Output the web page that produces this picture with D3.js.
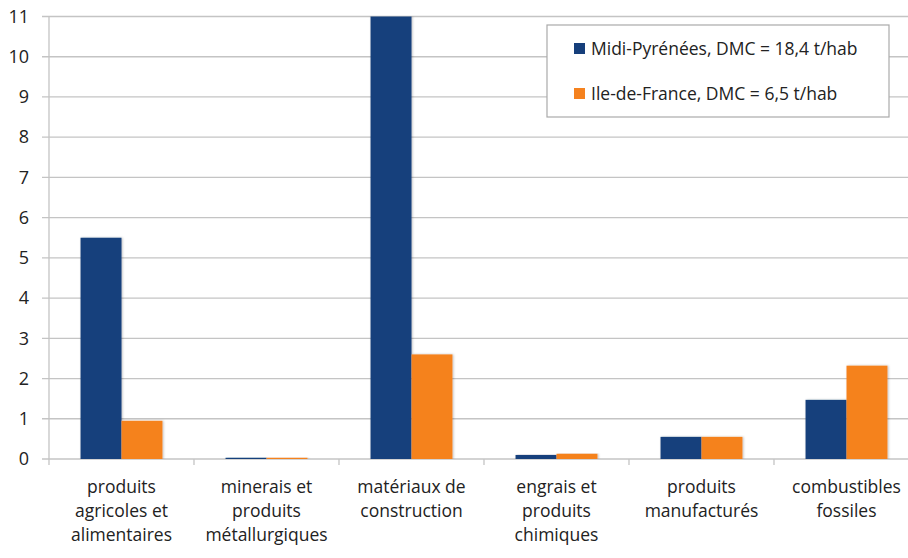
<!DOCTYPE html>
<html>
<head>
<meta charset="utf-8">
<script src="https://cdn.jsdelivr.net/npm/d3@7"></script>
<style>
  body { margin: 0; background: #fff; }
  svg { display: block; font-family: "Open Sans", sans-serif; }
</style>
</head>
<body>
<div id="chart"></div>
<script>
// chart data
const categories = [
    ["produits", "agricoles et", "alimentaires"],
    ["minerais et", "produits", "métallurgiques"],
    ["matériaux de", "construction"],
    ["engrais et", "produits", "chimiques"],
    ["produits", "manufacturés"],
    ["combustibles", "fossiles"]
];
const seriesNames = ["Midi-Pyrénées, DMC = 18,4 t/hab", "Ile-de-France, DMC = 6,5 t/hab"];
const midiPyrenees = [5.5, 0.03, 11.4, 0.1, 0.55, 1.47];
const ileDeFrance = [0.95, 0.03, 2.6, 0.13, 0.55, 2.32];
const yTicks = [0, 1, 2, 3, 4, 5, 6, 7, 8, 9, 10, 11];
const colors = ["#163f7b", "#f5821f"];

const width = 908, height = 558;
const margin = { top: 16.5, left: 49, bottom: 99 };
const plotRight = 919; // plot runs past the picture edge

const svg = d3.select("#chart")
    .append("svg")
    .attr("width", width)
    .attr("height", height);

const keys = categories.map((c, i) => i);

const x0 = d3.scaleBand()
    .domain(keys)
    .range([margin.left, plotRight])
    .padding(0);

const x1 = d3.scaleBand()
    .domain([0, 1])
    .range([0, x0.bandwidth()])
    .paddingInner(0)
    .paddingOuter(0.77);

const y = d3.scaleLinear()
    .domain([0, 11])
    .range([height - margin.bottom, margin.top]);

// gridlines
svg.append("g")
    .selectAll("line")
    .data(yTicks)
    .enter().append("line")
    .attr("x1", margin.left - 7)
    .attr("x2", width)
    .attr("y1", d => y(d))
    .attr("y2", d => y(d))
    .style("stroke", "#c4c4c4")
    .style("stroke-width", 1.3);

// y tick labels
svg.append("g")
    .selectAll("text")
    .data(yTicks)
    .enter().append("text")
    .attr("x", 29)
    .attr("y", d => y(d))
    .attr("dy", "0.35em")
    .attr("text-anchor", "end")
    .style("font-size", "18px")
    .style("fill", "#222")
    .text(d => d);

// clip so the tall bar stops at the top of the axis
svg.append("clipPath")
    .attr("id", "plot-clip")
    .append("rect")
    .attr("x", margin.left)
    .attr("y", margin.top)
    .attr("width", plotRight - margin.left)
    .attr("height", y(0) - margin.top);

const defs = svg.append("defs");
const shadow = defs.append("filter").attr("id", "shadow")
    .attr("x", "-20%").attr("y", "-5%").attr("width", "140%").attr("height", "110%");
shadow.append("feDropShadow")
    .attr("dx", 1).attr("dy", 0).attr("stdDeviation", 1)
    .attr("flood-color", "#000").attr("flood-opacity", 0.25);

const rows = keys.map(i => [midiPyrenees[i], ileDeFrance[i]]);

const groups = svg.append("g")
    .attr("clip-path", "url(#plot-clip)")
    .selectAll("g")
    .data(rows)
    .enter().append("g")
    .attr("transform", (d, i) => `translate(${x0(i)},0)`);

groups.selectAll("rect")
    .data(d => d)
    .enter().append("rect")
    .attr("x", (d, j) => x1(j))
    .attr("width", x1.bandwidth())
    .attr("y", d => y(d))
    .attr("height", d => y(0) - y(d))
    .style("fill", (d, j) => colors[j])
    .attr("filter", "url(#shadow)");

// y axis line
svg.append("line")
    .attr("x1", margin.left).attr("x2", margin.left)
    .attr("y1", margin.top).attr("y2", y(0))
    .style("stroke", "#c4c4c4")
    .style("stroke-width", 1.3);

// x axis category ticks
const boundaries = keys.map(i => x0(i)).concat([plotRight]);
svg.append("g")
    .selectAll("line")
    .data(boundaries)
    .enter().append("line")
    .attr("x1", d => d).attr("x2", d => d)
    .attr("y1", y(0)).attr("y2", y(0) + 6)
    .style("stroke", "#c4c4c4")
    .style("stroke-width", 1.3);

// category labels
const labels = svg.append("g")
    .selectAll("text")
    .data(categories)
    .enter().append("text")
    .attr("x", (d, i) => x0(i) + x0.bandwidth() / 2)
    .attr("y", y(0) + 34)
    .attr("text-anchor", "middle")
    .style("font-size", "17.5px")
    .style("fill", "#222");

labels.selectAll("tspan")
    .data(d => d)
    .enter().append("tspan")
    .attr("x", function () { return this.parentNode.getAttribute("x"); })
    .attr("dy", (d, k) => k === 0 ? 0 : 24)
    .text(d => d);

// legend
const legend = svg.append("g").attr("transform", "translate(547,25)");
legend.append("rect")
    .attr("width", 342)
    .attr("height", 92)
    .style("fill", "#fff")
    .style("stroke", "#aaa")
    .style("stroke-width", 1.2);

const items = legend.selectAll("g")
    .data(seriesNames)
    .enter().append("g")
    .attr("transform", (d, i) => `translate(27,${18 + i * 45})`);

items.append("rect")
    .attr("width", 11)
    .attr("height", 11)
    .style("fill", (d, i) => colors[i]);

items.append("text")
    .attr("x", 17)
    .attr("y", 6)
    .attr("dy", "0.35em")
    .style("font-size", "17.5px")
    .style("fill", "#222")
    .text(d => d);
</script>
</body>
</html>
